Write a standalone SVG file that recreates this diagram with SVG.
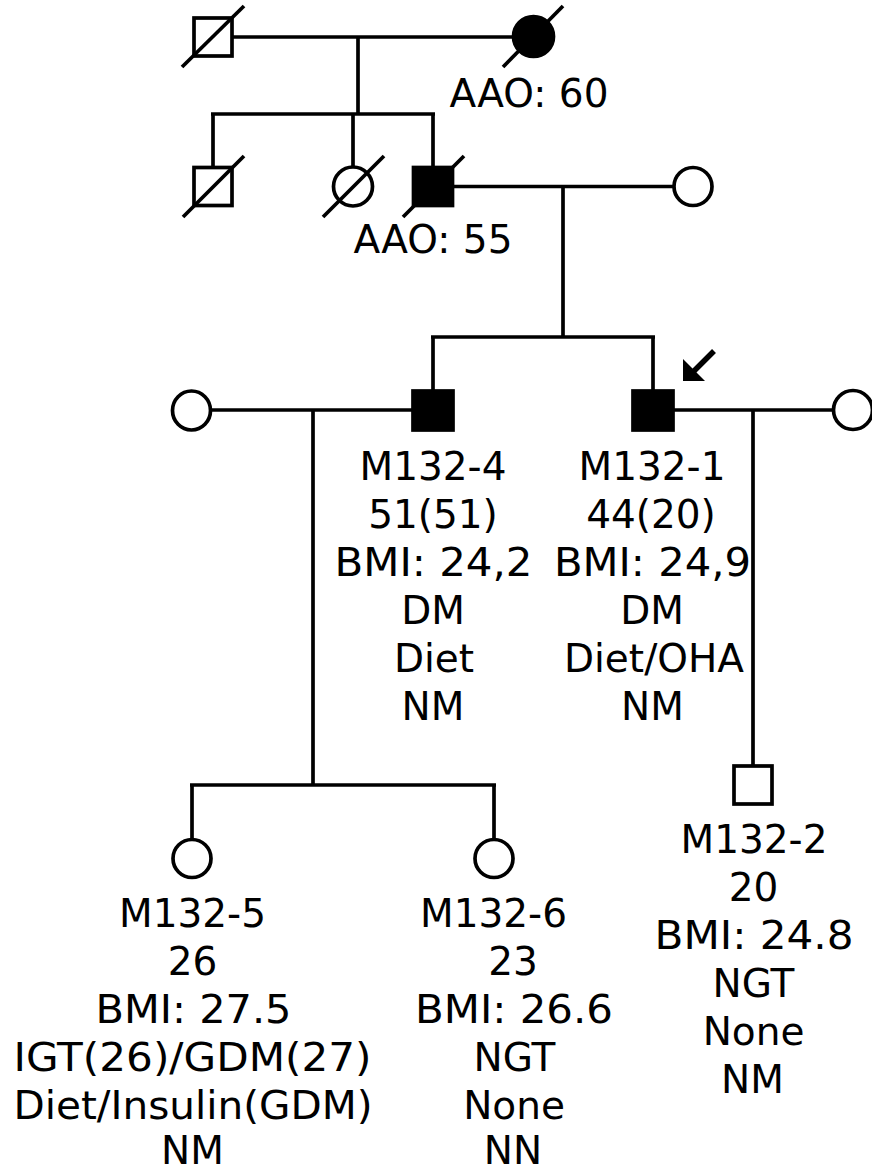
<svg xmlns="http://www.w3.org/2000/svg" width="872" height="1173" viewBox="0 0 872 1173">
<style>
.ln{stroke:#000;stroke-width:3.7;fill:none;stroke-linecap:butt}
.sh{stroke:#000;stroke-width:3.7;fill:#fff}
.af{stroke:#000;stroke-width:3.7;fill:#000}
.dx{stroke:#000;stroke-width:3.7;fill:none}
text{font-family:"DejaVu Sans","Liberation Sans",sans-serif;font-size:39px;fill:#000;text-anchor:middle}
</style>
<rect width="872" height="1173" fill="#fff"/>
<g id="connectors">
<line class="ln" x1="232" y1="37" x2="513" y2="37"/>
<line class="ln" x1="358" y1="37" x2="358" y2="114"/>
<line class="ln" x1="211" y1="114" x2="435" y2="114"/>
<line class="ln" x1="213" y1="114" x2="213" y2="168"/>
<line class="ln" x1="353" y1="114" x2="353" y2="167"/>
<line class="ln" x1="433" y1="114" x2="433" y2="168"/>
<line class="ln" x1="452" y1="186.5" x2="674" y2="186.5"/>
<line class="ln" x1="563" y1="186.5" x2="563" y2="337"/>
<line class="ln" x1="431" y1="337" x2="655" y2="337"/>
<line class="ln" x1="433" y1="337" x2="433" y2="391"/>
<line class="ln" x1="653" y1="337" x2="653" y2="391"/>
<line class="ln" x1="210" y1="410" x2="414" y2="410"/>
<line class="ln" x1="313" y1="410" x2="313" y2="785"/>
<line class="ln" x1="190" y1="785" x2="496" y2="785"/>
<line class="ln" x1="192" y1="785" x2="192" y2="840"/>
<line class="ln" x1="494" y1="785" x2="494" y2="840"/>
<line class="ln" x1="672" y1="410" x2="834" y2="410"/>
<line class="ln" x1="753" y1="410" x2="753" y2="766"/>
</g>
<g id="I-1">
<rect class="sh" x="194" y="18" width="38" height="38"/>
<line class="dx" x1="182" y1="67" x2="244" y2="6"/>
</g>
<g id="I-2">
<circle class="af" cx="533.5" cy="36.5" r="20"/>
<line class="dx" x1="503" y1="67" x2="563" y2="6"/>
<text x="529" y="107">AAO: 60</text>
</g>
<g id="II-1">
<rect class="sh" x="194" y="167.5" width="38" height="38"/>
<line class="dx" x1="183" y1="217" x2="244" y2="156"/>
</g>
<g id="II-2">
<circle class="sh" cx="353" cy="186.5" r="19.5"/>
<line class="dx" x1="323" y1="217" x2="384" y2="156"/>
</g>
<g id="II-3">
<rect class="af" x="413.5" y="167.5" width="39" height="38"/>
<line class="dx" x1="403" y1="217" x2="464" y2="156"/>
<text x="433" y="253">AAO: 55</text>
</g>
<g id="II-4">
<circle class="sh" cx="693" cy="186.5" r="19"/>
</g>
<g id="III-1">
<ellipse class="sh" cx="191.5" cy="410.5" rx="19" ry="19.5"/>
</g>
<g id="M132-4">
<rect class="af" x="413" y="391" width="40" height="39"/>
<text x="433" y="480">M132-4</text>
<text x="433" y="528">51(51)</text>
<text x="433.5" y="576" textLength="198" lengthAdjust="spacingAndGlyphs">BMI: 24,2</text>
<text x="433" y="624">DM</text>
<text x="434" y="672">Diet</text>
<text x="433" y="720">NM</text>
</g>
<g id="M132-1">
<rect class="af" x="633" y="391" width="40" height="39"/>
<polygon points="683,381 683,359 705,381" fill="#000"/>
<line x1="714" y1="351" x2="692" y2="373" stroke="#000" stroke-width="5.5"/>
<text x="652" y="480">M132-1</text>
<text x="651" y="528">44(20)</text>
<text x="652.5" y="576" textLength="197" lengthAdjust="spacingAndGlyphs">BMI: 24,9</text>
<text x="652" y="624">DM</text>
<text x="654" y="672">Diet/OHA</text>
<text x="652.5" y="720">NM</text>
</g>
<g id="III-4">
<circle class="sh" cx="853" cy="410" r="19.5"/>
</g>
<g id="M132-5">
<ellipse class="sh" cx="192" cy="858.5" rx="19" ry="19"/>
<text x="192.5" y="927">M132-5</text>
<text x="192.5" y="975">26</text>
<text x="193.5" y="1023" textLength="196" lengthAdjust="spacingAndGlyphs">BMI: 27.5</text>
<text x="192.5" y="1071" textLength="358" lengthAdjust="spacingAndGlyphs">IGT(26)/GDM(27)</text>
<text x="193" y="1119" textLength="359" lengthAdjust="spacingAndGlyphs">Diet/Insulin(GDM)</text>
<text x="192.5" y="1164">NM</text>
</g>
<g id="M132-6">
<ellipse class="sh" cx="494" cy="858.5" rx="19" ry="19"/>
<text x="493.5" y="927">M132-6</text>
<text x="513" y="975">23</text>
<text x="514" y="1023" textLength="198" lengthAdjust="spacingAndGlyphs">BMI: 26.6</text>
<text x="514.5" y="1071">NGT</text>
<text x="514" y="1119">None</text>
<text x="513" y="1164">NN</text>
</g>
<g id="M132-2">
<rect class="sh" x="734" y="766" width="38" height="38"/>
<text x="754" y="853">M132-2</text>
<text x="753.5" y="901">20</text>
<text x="754" y="949" textLength="199" lengthAdjust="spacingAndGlyphs">BMI: 24.8</text>
<text x="753.5" y="997">NGT</text>
<text x="753.5" y="1045">None</text>
<text x="752.5" y="1093">NM</text>
</g>
</svg>
